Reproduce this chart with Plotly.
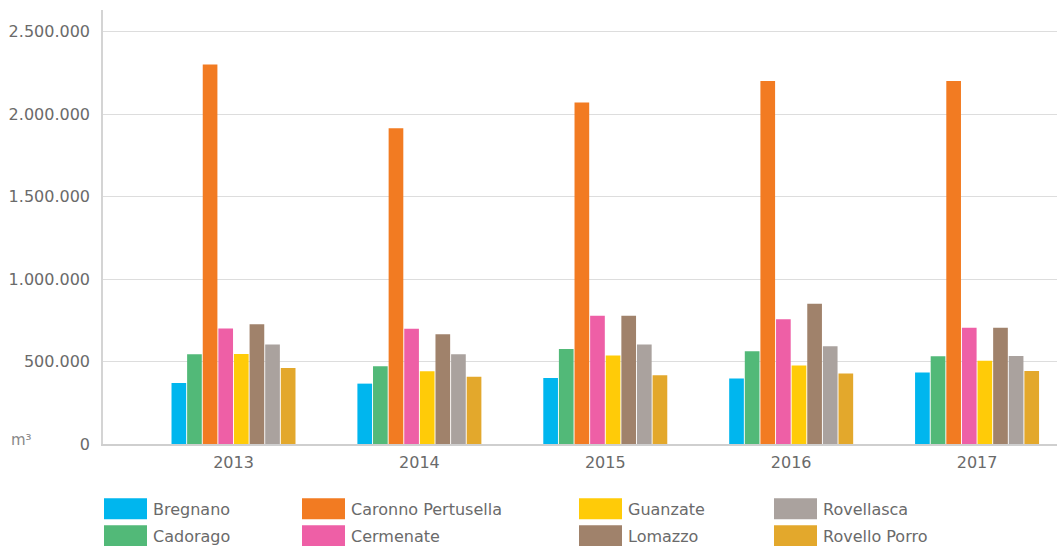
import plotly.graph_objects as go

years = ["2013", "2014", "2015", "2016", "2017"]

series_names = ["Bregnano", "Cadorago", "Caronno Pertusella", "Cermenate",
                "Guanzate", "Lomazzo", "Rovellasca", "Rovello Porro"]

bregnano = [370000, 366000, 400000, 397000, 433000]
cadorago = [544000, 471000, 576000, 562000, 532000]
caronno = [2300000, 1914000, 2070000, 2200000, 2200000]
cermenate = [700000, 698000, 777000, 757000, 704000]
guanzate = [545000, 441000, 536000, 476000, 504000]
lomazzo = [726000, 666000, 777000, 850000, 704000]
rovellasca = [603000, 544000, 603000, 593000, 534000]
rovello_porro = [461000, 407000, 417000, 427000, 443000]

series_values = [bregnano, cadorago, caronno, cermenate,
                 guanzate, lomazzo, rovellasca, rovello_porro]

colors = ["#00B6EE", "#52B978", "#F27B22", "#EE5FA6",
          "#FFCB08", "#A0826B", "#AAA29E", "#E3A82C"]

y_ticks = [0, 500000, 1000000, 1500000, 2000000, 2500000]

FONT = "DejaVu Sans, Verdana, sans-serif"
TXT = "#6a6a6a"

fig = go.Figure()
for name, vals, col in zip(series_names, series_values, colors):
    fig.add_trace(go.Bar(x=years, y=vals, name=name, marker_color=col,
                         marker_line_width=0, showlegend=False))

W, H = 1059, 546
PL, PR, PT, PB = 103, 1057, 10, 443.7


def px_x(x):
    return (x - PL) / (PR - PL)


def px_y(y):
    return (PB - y) / (PB - PT)


# custom legend: 4 columns x 2 rows (column-major)
col_x = [104, 302, 579, 774]
row_y = [498, 525]
sw_w, sw_h = 43, 21
shapes = []
annotations = []
for i, (name, col) in enumerate(zip(series_names, colors)):
    c, r = i // 2, i % 2
    x0 = col_x[c]
    y0 = row_y[r]
    shapes.append(dict(type="rect", xref="paper", yref="paper",
                       x0=px_x(x0), x1=px_x(x0 + sw_w),
                       y0=px_y(y0 + sw_h), y1=px_y(y0),
                       line_width=0, fillcolor=col, layer="above"))
    annotations.append(dict(text=name, xref="paper", yref="paper",
                            x=px_x(x0 + sw_w + 4), y=px_y(y0 + sw_h / 2 + 1),
                            xanchor="left", yanchor="middle", showarrow=False,
                            font=dict(family=FONT, size=16, color=TXT)))

annotations.append(dict(text="m³", xref="paper", yref="paper",
                        x=px_x(9), y=px_y(440),
                        xanchor="left", yanchor="middle", showarrow=False,
                        font=dict(family=FONT, size=15, color="#888888")))

fig.update_layout(
    width=W, height=H,
    margin=dict(l=PL, r=W - PR, t=PT, b=H - PB),
    paper_bgcolor="white", plot_bgcolor="white",
    barmode="group", bargap=0.328, bargroupgap=0.06,
    separators=",.",
    font=dict(family=FONT, size=16, color=TXT),
    shapes=shapes, annotations=annotations,
    xaxis=dict(type="category", range=[-0.702, 4.43], showgrid=False,
               showline=True, linecolor="#cfcfcf", linewidth=1.5,
               ticks="", ticklabelstandoff=3,
               tickfont=dict(family=FONT, size=16, color=TXT)),
    yaxis=dict(range=[0, 2631000], tickvals=y_ticks, tickformat=",d",
               showgrid=True, gridcolor="#dddddd", gridwidth=1.2,
               zeroline=False, showline=True, linecolor="#d4d4d4", linewidth=1.5,
               ticks="", ticklabelstandoff=8,
               tickfont=dict(family=FONT, size=16, color=TXT)),
)

fig.write_html("out.html")
